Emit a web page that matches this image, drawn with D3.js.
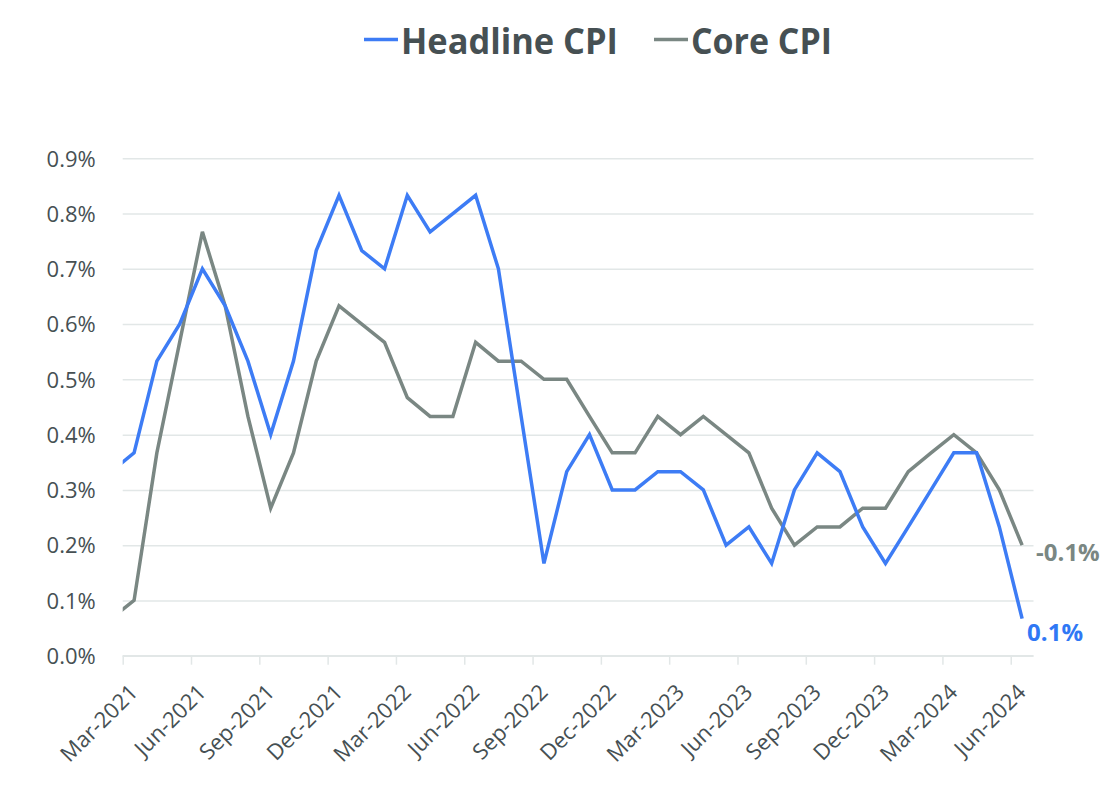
<!DOCTYPE html>
<html>
<head>
<meta charset="utf-8">
<script src="https://cdn.jsdelivr.net/npm/d3@7"></script>
<style>
  body { margin: 0; background: #fff; }
  svg { display: block; font-family: "Open Sans", "Noto Sans", sans-serif; }
</style>
</head>
<body>
<svg id="chart" width="1117" height="811"></svg>
<script>
// month index 0 = Feb-2021 ... 40 = Jun-2024 (Feb-2021 is only partly visible at the left edge)
const monthCount = 41;
const tickMonths = [1, 4, 7, 10, 13, 16, 19, 22, 25, 28, 31, 34, 37, 40];
const tickLabels = ['Mar-2021', 'Jun-2021', 'Sep-2021', 'Dec-2021', 'Mar-2022', 'Jun-2022', 'Sep-2022',
  'Dec-2022', 'Mar-2023', 'Jun-2023', 'Sep-2023', 'Dec-2023', 'Mar-2024', 'Jun-2024'];

const headline = [0.333, 0.367, 0.533, 0.6, 0.7, 0.633, 0.533, 0.4, 0.533, 0.733, 0.833,
  0.733, 0.7, 0.833, 0.767, 0.8, 0.833, 0.7, 0.433, 0.167, 0.333, 0.4, 0.3,
  0.3, 0.333, 0.333, 0.3, 0.2, 0.233, 0.167, 0.3, 0.367, 0.333, 0.233, 0.167,
  0.233, 0.3, 0.367, 0.367, 0.233, 0.067];
const core = [0.067, 0.1, 0.367, 0.567, 0.767, 0.633, 0.433, 0.267, 0.367, 0.533, 0.633,
  0.6, 0.567, 0.467, 0.433, 0.433, 0.567, 0.533, 0.533, 0.5, 0.5, 0.433, 0.367,
  0.367, 0.433, 0.4, 0.433, 0.4, 0.367, 0.267, 0.2, 0.233, 0.233, 0.267, 0.267,
  0.333, 0.367, 0.4, 0.367, 0.3, 0.2];
const yTicks = [0, 0.1, 0.2, 0.3, 0.4, 0.5, 0.6, 0.7, 0.8, 0.9];
const seriesNames = ['Headline CPI', 'Core CPI'];
const endLabels = ['0.1%', '-0.1%'];

const blue = '#3d7cf5';
const grey = '#7a8783';
const textColor = '#465053';
const gridColor = '#e2e7e7';
const fontFamily = '"Open Sans", "Noto Sans", sans-serif';

const svg = d3.select('#chart');
const plotLeft = 122.7, plotRight = 1033.5, plotTop = 158.3, plotBottom = 655.7;

const x = d3.scaleLinear().domain([1, monthCount]).range([plotLeft, plotRight]);
const y = d3.scaleLinear().domain([0, 0.9]).range([plotBottom, plotTop]);

// gridlines + y labels
const yAxis = svg.append('g')
  .attr('transform', `translate(${plotLeft},0)`)
  .call(d3.axisLeft(y).tickValues(yTicks).tickSize(-(plotRight - plotLeft)).tickPadding(27)
    .tickFormat(d => d3.format('.1f')(d) + '%'))
  .attr('font-family', fontFamily);
yAxis.select('.domain').remove();
yAxis.selectAll('.tick line').attr('stroke', gridColor).attr('stroke-width', 1.5);
yAxis.selectAll('.tick text')
  .attr('fill', textColor).attr('font-size', '22px').attr('dy', '0.35em');

// x axis
const xAxis = svg.append('g')
  .attr('transform', `translate(0,${plotBottom})`)
  .call(d3.axisBottom(x).tickValues(tickMonths).tickSize(9)
    .tickFormat((d, i) => tickLabels[i]))
  .attr('font-family', fontFamily);
xAxis.select('.domain').attr('stroke', gridColor).attr('stroke-width', 1.5)
  .attr('d', `M${plotLeft},0H${plotRight}`);
xAxis.selectAll('.tick line').attr('stroke', gridColor).attr('stroke-width', 1.5);
xAxis.selectAll('.tick text')
  .attr('fill', textColor).attr('font-size', '22px')
  .attr('text-anchor', 'end')
  .attr('y', 0).attr('dy', 0)
  .attr('transform', 'translate(16,38) rotate(-45)');

// clip the lines at the plot's left edge
svg.append('clipPath').attr('id', 'plotClip')
  .append('rect').attr('x', plotLeft).attr('y', 0).attr('width', plotRight - plotLeft).attr('height', 811);

const line = d3.line()
  .x((d, i) => x(i + 0.5))
  .y(d => y(d));

const series = [
  { name: seriesNames[0], values: headline, color: blue },
  { name: seriesNames[1], values: core, color: grey }
];

const lines = svg.append('g').attr('clip-path', 'url(#plotClip)');
// draw core first so headline sits above it
[series[1], series[0]].forEach(s => {
  lines.append('path')
    .datum(s.values)
    .attr('fill', 'none')
    .attr('stroke', s.color)
    .attr('stroke-width', 3.5)
    .attr('stroke-linejoin', 'miter')
    .attr('d', line);
});

// end labels
const last = monthCount - 1;
svg.append('text')
  .attr('x', x(last + 0.5) + 5).attr('y', y(headline[last]) + 22)
  .attr('fill', '#2f78f5').attr('font-size', '24px').attr('font-weight', 700)
  .text(endLabels[0]);
svg.append('text')
  .attr('x', x(last + 0.5) + 14).attr('y', y(core[last]) + 16)
  .attr('fill', grey).attr('font-size', '24px').attr('font-weight', 700)
  .text(endLabels[1]);

// legend
const legendItems = [
  { name: seriesNames[0], color: blue, x: 364, w: 217 },
  { name: seriesNames[1], color: grey, x: 654, w: 141 }
];
legendItems.forEach(item => {
  svg.append('line')
    .attr('x1', item.x).attr('x2', item.x + 34)
    .attr('y1', 39.5).attr('y2', 39.5)
    .attr('stroke', item.color).attr('stroke-width', 3.5);
  svg.append('text')
    .attr('x', item.x + 37).attr('y', 53.5)
    .attr('fill', textColor).attr('font-size', '36px').attr('font-weight', 700)
    .attr('textLength', item.w).attr('lengthAdjust', 'spacingAndGlyphs')
    .text(item.name);
});
</script>
</body>
</html>
